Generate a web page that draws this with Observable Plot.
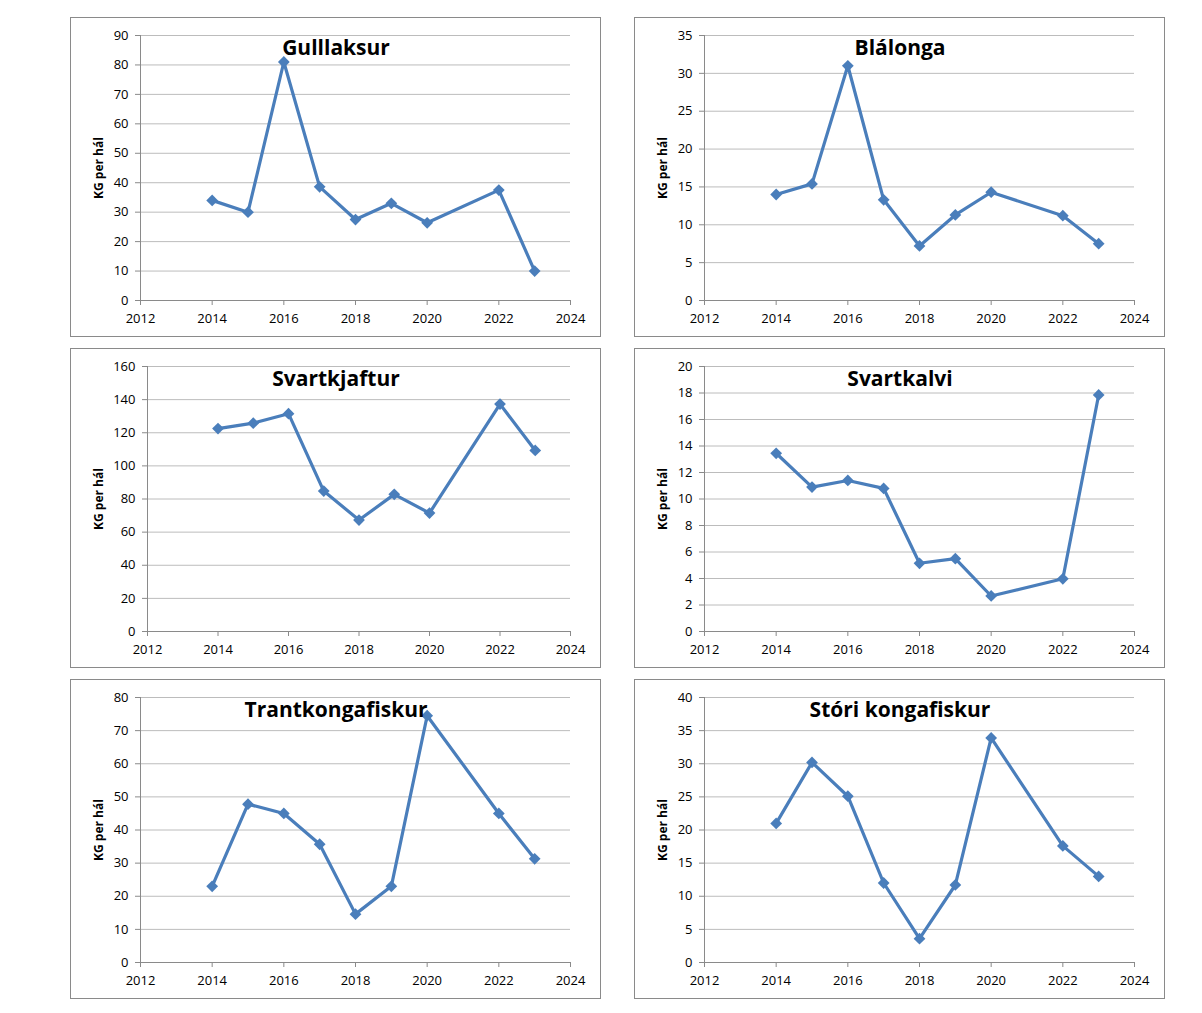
<!DOCTYPE html>
<html><head><meta charset="utf-8">
<script src="https://cdn.jsdelivr.net/npm/d3@7"></script>
<script src="https://cdn.jsdelivr.net/npm/@observablehq/plot@0.6"></script>
<style>
body{margin:0;background:#fff;}
#wrap{position:relative;width:1202px;height:1013px;background:#fff;}
.panel{position:absolute;outline:1.5px solid #8a8a8a;}
.panel svg{display:block;}
</style></head>
<body><div id="wrap"></div>
<script>
const years = [2014, 2015, 2016, 2017, 2018, 2019, 2020, 2022, 2023];
const xTicks = [2012, 2014, 2016, 2018, 2020, 2022, 2024];
const yLabel = "KG per hál";

const titles = ["Gulllaksur", "Blálonga", "Svartkjaftur", "Svartkalvi", "Trantkongafiskur", "Stóri kongafiskur"];
const gulllaksur      = [34, 30, 81, 38.6, 27.5, 33, 26.4, 37.5, 10];
const blalonga        = [14, 15.4, 31, 13.3, 7.2, 11.3, 14.3, 11.2, 7.5];
const svartkjaftur    = [122.5, 125.8, 131.5, 84.8, 67.3, 82.8, 71.5, 137.3, 109.3];
const svartkalvi      = [13.45, 10.9, 11.4, 10.8, 5.15, 5.5, 2.68, 3.98, 17.85];
const trantkongafiskur= [23, 47.8, 45, 35.7, 14.6, 23, 74.5, 45, 31.3];
const storiKongafiskur= [21, 30.2, 25.1, 12, 3.6, 11.7, 33.9, 17.6, 13];

const yMaxes = [90, 35, 160, 20, 80, 40];
const ySteps = [10, 5, 20, 2, 10, 5];
const series = [gulllaksur, blalonga, svartkjaftur, svartkalvi, trantkongafiskur, storiKongafiskur];

const layout = [
  {left: 71, top: 18, ml: 69},
  {left: 635, top: 18, ml: 69},
  {left: 71, top: 349, ml: 76},
  {left: 635, top: 349, ml: 69},
  {left: 71, top: 680, ml: 69},
  {left: 635, top: 680, ml: 69}
];

const FONT = "'Open Sans', sans-serif";
const BLUE = "#4a7ebb";
const W = 529, H = 318, MT = 17, MR = 30, MB = 36;

const wrap = document.getElementById("wrap");
series.forEach((vals, i) => {
  const data = years.map((y, j) => ({year: y, value: vals[j]}));
  const yTicks = d3.range(0, yMaxes[i] + ySteps[i] / 2, ySteps[i]);
  const ml = layout[i].ml;
  const chart = Plot.plot({
    width: W, height: H,
    marginLeft: ml, marginTop: MT, marginRight: MR, marginBottom: MB,
    style: {fontFamily: FONT, fontSize: "13px", color: "#000", background: "transparent"},
    x: {domain: [2012, 2024], label: null},
    y: {domain: [0, yMaxes[i]], label: null},
    marks: [
      Plot.gridY(yTicks, {stroke: "#bcbcbc", strokeOpacity: 1, strokeWidth: 1}),
      Plot.ruleX([2012], {stroke: "#8a8a8a", strokeWidth: 1}),
      Plot.ruleY([0], {stroke: "#8a8a8a", strokeWidth: 1}),
      Plot.axisY(yTicks, {tickSize: 5, tickPadding: 7, stroke: "#8a8a8a", fill: "#000", label: null, fontSize: 13}),
      Plot.axisX(xTicks, {tickSize: 5, tickPadding: 8, stroke: "#8a8a8a", fill: "#000", label: null, tickFormat: d => String(d), fontSize: 13}),
      Plot.line(data, {x: "year", y: "value", stroke: BLUE, strokeWidth: 3.2, strokeLinejoin: "round"}),
      Plot.dot(data, {x: "year", y: "value", symbol: "diamond2", r: 5.3, fill: BLUE, stroke: "none"}),
      Plot.text([titles[i]], {text: d => d, frameAnchor: "top", dx: (MR - ml) / 2, dy: 13, lineAnchor: "middle",
        fontSize: 21, fontWeight: "bold", fill: "#000", fontFamily: FONT}),
      Plot.text([yLabel], {text: d => d, frameAnchor: "left", dx: -(ml - 28), rotate: -90, lineAnchor: "middle",
        textAnchor: "middle", fontSize: 12, fontWeight: "bold", fill: "#000", fontFamily: FONT})
    ]
  });
  const div = document.createElement("div");
  div.className = "panel";
  div.style.left = layout[i].left + "px";
  div.style.top = layout[i].top + "px";
  div.style.width = W + "px";
  div.style.height = H + "px";
  div.appendChild(chart);
  wrap.appendChild(div);
});
</script>
</body></html>
